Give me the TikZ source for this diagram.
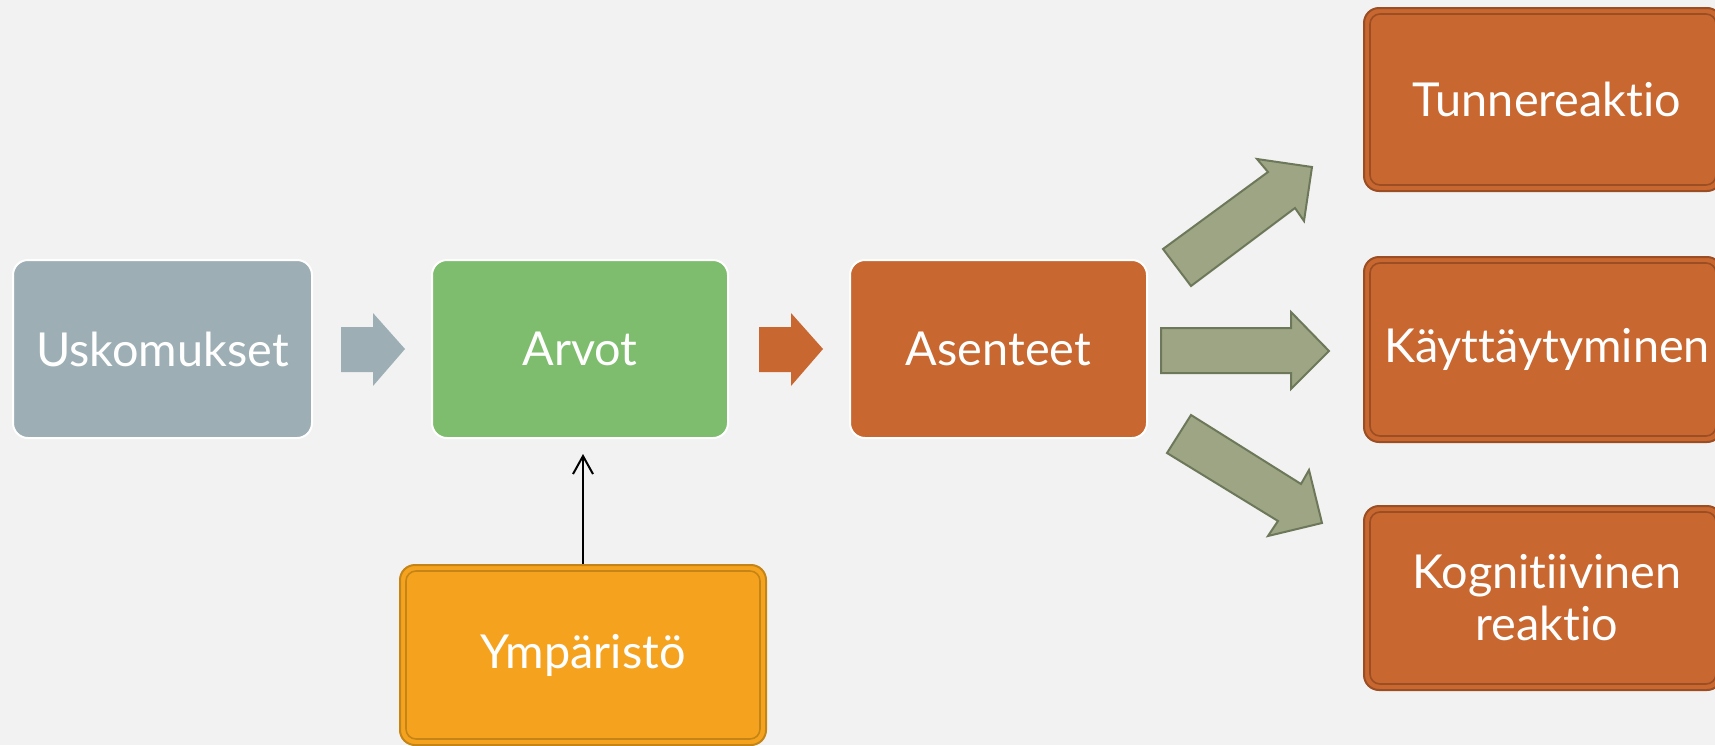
\documentclass[tikz,border=0pt]{standalone}
\usepackage{fontspec}
\setmainfont[Ligatures=NoCommon]{Lato}
\usetikzlibrary{arrows.meta}

\definecolor{bgc}{HTML}{F2F2F2}
\definecolor{greyblue}{HTML}{9DAFB4}
\definecolor{leaf}{HTML}{7DBD6D}
\definecolor{rust}{HTML}{C8672F}
\definecolor{rustedge}{HTML}{9B4E24}
\definecolor{amber}{HTML}{F5A31F}
\definecolor{amberedge}{HTML}{C48516}
\definecolor{sage}{HTML}{9DA584}
\definecolor{sageedge}{HTML}{6D785A}

\tikzset{
  box/.style={rectangle, rounded corners=7.5pt, inner sep=0pt, align=center,
    text=white, font=\fontsize{23.4pt}{26pt}\selectfont},
  plainbox/.style={box, draw=white, line width=1pt},
  framedbox/.style={box, line width=1pt},
  innerline/.style={line width=0.8pt, rounded corners=5pt},
  blockarrow/.style={fill=sage, draw=sageedge, line width=1pt, line join=miter},
}

\begin{document}
\begin{tikzpicture}[x=0.5pt, y=-0.5pt]
  % canvas
  \fill[bgc] (0,0) rectangle (1715,745);
  \useasboundingbox (0,0) rectangle (1715,745);

  % main chain
  \node[plainbox, fill=greyblue, minimum width=149.5pt, minimum height=89pt] (usk) at (162.5,349) {Uskomukset};
  \node[plainbox, fill=leaf, minimum width=148pt, minimum height=89pt] (arvot) at (580,349) {Arvot};
  \node[plainbox, fill=rust, minimum width=148.5pt, minimum height=89pt] (asen) at (998.5,349) {Asenteet};

  % outcome boxes on the right
  \node[framedbox, fill=rust, draw=rustedge, minimum width=179pt, minimum height=91.5pt] (tunne) at (1543,99.5) {\hspace*{4pt}Tunnereaktio};
  \node[framedbox, fill=rust, draw=rustedge, minimum width=179pt, minimum height=92.5pt] (kayt) at (1543,349.5) {\hspace*{4pt}Käyttäytyminen};
  \node[framedbox, fill=rust, draw=rustedge, minimum width=179pt, minimum height=92pt] (kogn) at (1543,598) {\hspace*{4pt}Kognitiivinen\\\hspace*{4pt}reaktio};
  \foreach \n in {tunne,kayt,kogn}
    \draw[innerline, draw=rustedge]
      ([shift={(3.5pt,-3.5pt)}]\n.north west) rectangle ([shift={(-3.5pt,3.5pt)}]\n.south east);

  % environment box
  \node[framedbox, fill=amber, draw=amberedge, minimum width=183pt, minimum height=90pt] (ymp) at (583,655) {Ympäristö};
  \draw[innerline, draw=amberedge]
    ([shift={(3.5pt,-3.5pt)}]ymp.north west) rectangle ([shift={(-3.5pt,3.5pt)}]ymp.south east);

  % block arrows between the main boxes
  \fill[greyblue] (341,327) -- (373,327) -- (373,313) -- (405,349) -- (373,386) -- (373,372) -- (341,372) -- cycle;
  \fill[rust] (759,327) -- (791,327) -- (791,313) -- (823,349) -- (791,386) -- (791,372) -- (759,372) -- cycle;

  % block arrows fanning out from Asenteet
  \draw[blockarrow] (1163,249) -- (1268,172) -- (1257,159) -- (1312,167) -- (1304,221) -- (1295,208) -- (1191,286) -- cycle;
  \draw[blockarrow] (1161,328) -- (1291,328) -- (1291,312) -- (1329,351) -- (1291,389) -- (1291,373) -- (1161,373) -- cycle;
  \draw[blockarrow] (1191,415) -- (1301,484) -- (1309,470) -- (1322,523) -- (1268,536) -- (1278,521) -- (1167,453) -- cycle;

  % influence of the environment on values
  \draw[line width=1pt, -{Straight Barb[length=9pt, width=10pt, line width=1pt]}, shorten >=7.5pt]
    (ymp.north) -- (ymp.north |- arvot.south);
\end{tikzpicture}
\end{document}
